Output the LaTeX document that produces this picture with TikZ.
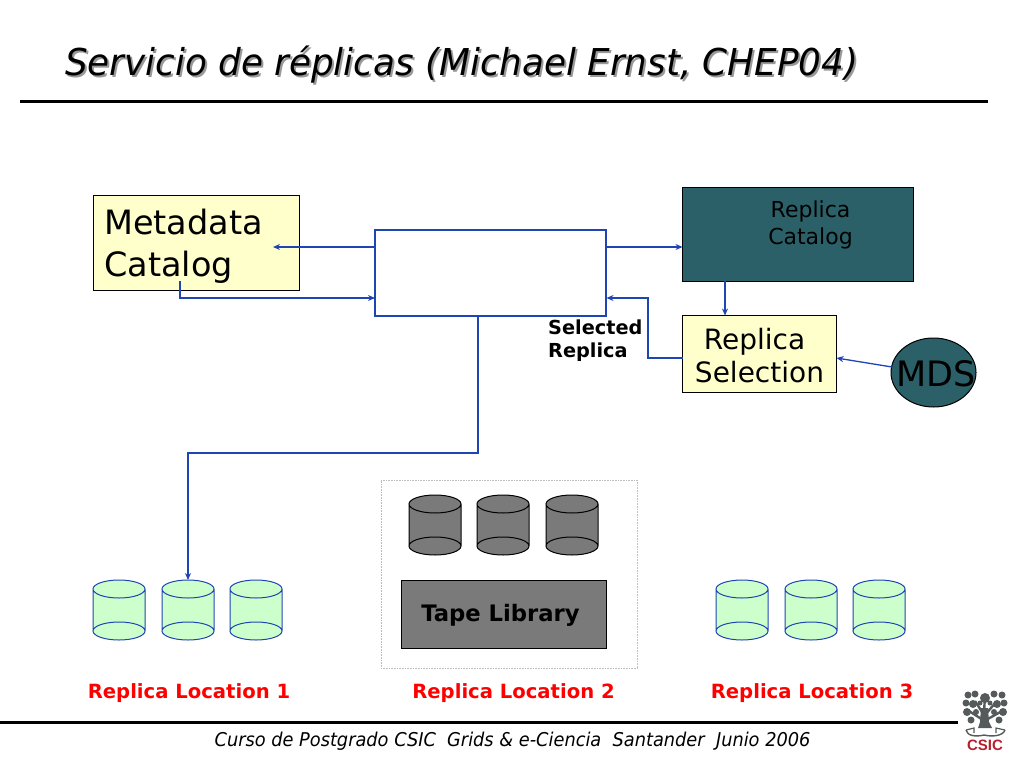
\documentclass[tikz,border=0pt]{standalone}
\usepackage{fontspec}
\setmainfont{DejaVu Sans}
\newfontfamily\logofont{Liberation Sans}
\usetikzlibrary{arrows.meta,shapes.geometric}
\definecolor{teal}{HTML}{2B6068}
\definecolor{paleyellow}{HTML}{FFFFCC}
\definecolor{palegreen}{HTML}{CCFFCC}
\definecolor{linkblue}{HTML}{1F45B5}
\definecolor{midgray}{HTML}{7A7A7A}
\definecolor{logored}{HTML}{B5202C}
\definecolor{logogray}{HTML}{555B5B}
\newcommand{\fs}[1]{\fontsize{#1}{#1}\selectfont}
\tikzset{
  x=1pt,y=-1pt,
  link/.style={draw=linkblue,line width=1.3pt,-{Stealth[length=7pt,width=6pt]}},
  plainbox/.style={draw=black,line width=1pt,anchor=north west,inner sep=0pt,outer sep=0pt},
  txt/.style={inner sep=0pt,text=black},
  big/.style={txt,font=\fs{33.5},align=left},
  mid/.style={txt,font=\fs{28},align=center},
  bold/.style={txt,font=\fs{19.3}\bfseries,align=left},
  redlabel/.style={inner sep=0pt,text=red,font=\fs{19.6}\bfseries},
  rulestyle/.style={draw=black,line width=3pt},
  disk/.style={line width=1pt},
  diskgreen/.pic={
    \fill[palegreen] (0,-21) ellipse[x radius=26,y radius=9];
    \fill[palegreen] (0,21) ellipse[x radius=26,y radius=9];
    \fill[palegreen] (-26,-21) rectangle (26,21);
    \draw[draw=linkblue,disk] (-26,-21) -- (-26,21) (26,-21) -- (26,21) (0,-21) ellipse[x radius=26,y radius=9] (0,21) ellipse[x radius=26,y radius=9];
  },
  diskgray/.pic={
    \fill[midgray] (0,-21) ellipse[x radius=26,y radius=9];
    \fill[midgray] (0,21) ellipse[x radius=26,y radius=9];
    \fill[midgray] (-26,-21) rectangle (26,21);
    \draw[draw=black,disk] (-26,-21) -- (-26,21) (26,-21) -- (26,21) (0,-21) ellipse[x radius=26,y radius=9] (0,21) ellipse[x radius=26,y radius=9];
  },
}
\begin{document}
\begin{tikzpicture}
\useasboundingbox (0,0) rectangle (1024,768);
% title
\node[anchor=west,inner sep=0pt,text=black!40,font=\fs{37}\itshape,xscale=0.966] (titleshadow) at (67,66.5) {Servicio de réplicas (Michael Ernst, CHEP04)};
\node[anchor=west,inner sep=0pt,text=black,font=\fs{37}\itshape,xscale=0.966] (title) at (65,64.5) {Servicio de réplicas (Michael Ernst, CHEP04)};
\draw[rulestyle] (20,101) -- (988,101);
% boxes
\node[plainbox,fill=paleyellow,minimum width=206pt,minimum height=95pt] (meta) at (93.5,195.5) {};
\node[big,anchor=west] (metatext) at (104,246.5) {Metadata\\[9pt]Catalog};
\node[anchor=north west,inner sep=0pt,outer sep=0pt,draw=linkblue,line width=1.3pt,fill=white,minimum width=231pt,minimum height=86pt] (mid) at (375,230) {};
\node[plainbox,fill=teal,minimum width=231pt,minimum height=94pt] (rc) at (682.5,187.5) {};
\node[txt,font=\fs{22},align=center] (rctext) at (810.5,225) {Replica\\[5pt]Catalog};
\node[plainbox,fill=paleyellow,minimum width=154pt,minimum height=77pt] (rs) at (682.5,315.5) {};
\node[mid] (rstext) at (759.5,355.5) {Replica\hspace*{10pt}\\[5pt]Selection};
\node[ellipse,draw=black,line width=1pt,fill=teal,minimum width=85pt,minimum height=69pt,inner sep=0pt,outer sep=0pt] (mds) at (933.5,372.5) {};
\node[txt,font=\fs{35}] (mdstext) at (936,374) {MDS};
\node[bold,anchor=north west] (seltext) at (548,319.5) {Selected\\[4pt]Replica};
% replica location 2
\node[anchor=north west,inner sep=0pt,outer sep=0pt,draw=black!25,densely dotted,line width=0.6pt,minimum width=256pt,minimum height=188pt] (loc2) at (381,480) {};
\node[plainbox,fill=midgray,minimum width=205pt,minimum height=68pt] (tape) at (401,580.5) {};
\node[txt,font=\fs{22.7}\bfseries] (tapetext) at (500.5,615) {Tape Library};
\pic at (435,525) {diskgray};
\pic at (503,525) {diskgray};
\pic at (572,525) {diskgray};
% disks
\pic at (119,610) {diskgreen};
\pic at (188,610) {diskgreen};
\pic at (256,610) {diskgreen};
\pic at (742,610) {diskgreen};
\pic at (811,610) {diskgreen};
\pic at (879,610) {diskgreen};
% free ends of connectors
\coordinate (metaIn) at (273,247);
\coordinate (metaOut) at (180,281);
\coordinate (midL) at (375,247);
\coordinate (midLb) at (375,298);
\coordinate (midR) at (606,247);
\coordinate (midRb) at (606.5,298);
\coordinate (midB) at (478,316);
\coordinate (rcIn) at (682.5,247);
\coordinate (rcOut) at (725,281);
\coordinate (rsIn) at (725,315.5);
\coordinate (rsL) at (682.5,358);
\coordinate (rsR) at (836.5,358);
\coordinate (mdsL) at (892,367);
\coordinate (diskTop) at (188,580);
% connectors
\draw[link] (midL) -- (metaIn);
\draw[link] (metaOut) -- (180,298) -- (midLb);
\draw[link] (midR) -- (rcIn);
\draw[link] (rcOut) -- (rsIn);
\draw[link] (rsL) -- (648,358) -- (648,298) -- (midRb);
\draw[link] (mdsL) -- (rsR);
\draw[link] (midB) -- (478,453) -- (188,453) -- (diskTop);
% labels
\node[redlabel] (l1) at (189,693.5) {Replica Location 1};
\node[redlabel] (l2) at (513.5,693.5) {Replica Location 2};
\node[redlabel] (l3) at (812,693.5) {Replica Location 3};
% footer
\draw[rulestyle] (0,722) -- (958,722);
\node[inner sep=0pt,text=black,font=\fs{19}\itshape,xscale=0.935] (foot) at (512.5,741.5) {Curso de Postgrado CSIC\ \ Grids \& e-Ciencia\ \ Santander\ \ Junio 2006};
% logo
\begin{scope}[logogray]
  \fill (981,708) -- (988,708) -- (989,722) -- (992,728) -- (978,728) -- (980,722) -- cycle;
  \draw[line width=2.4pt] (984,715) -- (975,701) (985,715) -- (996,702) (983,720) -- (969,711) (986,720) -- (1002,711) (984,712) -- (985,696);
  \foreach \cx/\cy/\r in {968/695/3.5,975/694/3.5,985/698/5,994/694/3.5,1002/695/3.5,966/703/3.5,973/704/4,997/704/4,1004/703/3.5,967/712/4,976/712/3,994/712/3,1003/712/4,971/720/3.5,999/720/3.5,980/703/2.5,990/703/2.5}
    \fill (\cx,\cy) circle (\r);
  \draw[line width=1.4pt] (966,730) .. controls (967,736) and (976,737) .. (984,735) .. controls (992,737) and (1003,736) .. (1005,730);
  \draw[line width=1.2pt] (966,730) -- (974,728) -- (974,733) (1005,730) -- (996,728) -- (996,733);
\end{scope}
\node[inner sep=0pt,text=logored,font=\logofont\fs{15}\bfseries] (csic) at (985,745) {CSIC};
\end{tikzpicture}
\end{document}
